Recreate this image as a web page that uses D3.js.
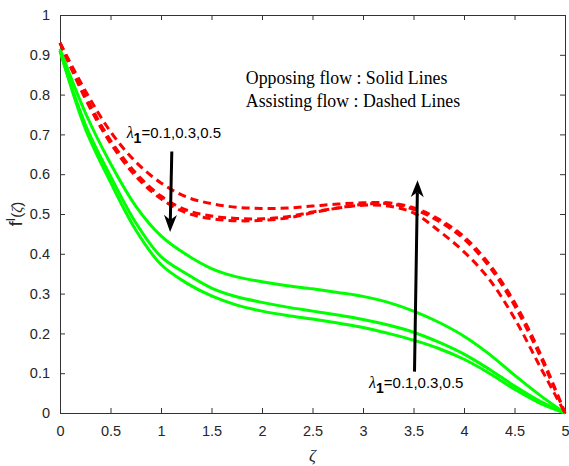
<!DOCTYPE html>
<html>
<head>
<meta charset="utf-8">
<script src="https://cdn.jsdelivr.net/npm/d3@7"></script>
<style>
  body { margin: 0; background: #fff; }
  svg { display: block; }
  .axis text { font-family: "Liberation Sans", Arial, sans-serif; font-size: 14.5px; fill: #262626; }
  .axis path, .axis line { stroke: #333; }
</style>
</head>
<body>
<div id="chart"></div>
<script>
// x values (zeta) shared by every curve
const zeta = [0, 0.25, 0.5, 0.75, 1, 1.25, 1.5, 1.75, 2, 2.25, 2.5, 2.75, 3, 3.25, 3.5, 3.75, 4, 4.25, 4.5, 4.75, 5];

// opposing flow (solid green), lambda1 = 0.1, 0.3, 0.5
const opposing1 = [0.915, 0.755, 0.627, 0.52, 0.445, 0.398, 0.363, 0.342, 0.330, 0.320, 0.312, 0.303, 0.293, 0.278, 0.256, 0.228, 0.193, 0.148, 0.095, 0.045, 0];
const opposing2 = [0.91, 0.725, 0.595, 0.478, 0.393, 0.35, 0.314, 0.292, 0.278, 0.266, 0.256, 0.246, 0.235, 0.221, 0.203, 0.178, 0.148, 0.11, 0.068, 0.03, 0];
const opposing3 = [0.91, 0.715, 0.58, 0.46, 0.373, 0.327, 0.294, 0.271, 0.256, 0.245, 0.236, 0.226, 0.215, 0.20, 0.183, 0.162, 0.135, 0.10, 0.06, 0.025, 0];

// assisting flow (dashed red)
const assisting1 = [0.93, 0.81, 0.707, 0.631, 0.578, 0.543, 0.526, 0.517, 0.514, 0.515, 0.52, 0.525, 0.528, 0.528, 0.516, 0.487, 0.443, 0.374, 0.278, 0.152, 0];
const assisting2 = [0.93, 0.798, 0.685, 0.603, 0.545, 0.51, 0.495, 0.489, 0.488, 0.493, 0.505, 0.515, 0.522, 0.52, 0.503, 0.458, 0.405, 0.336, 0.238, 0.118, 0];
const assisting3 = [0.93, 0.79, 0.678, 0.595, 0.538, 0.503, 0.488, 0.483, 0.484, 0.49, 0.503, 0.515, 0.524, 0.526, 0.512, 0.482, 0.437, 0.368, 0.27, 0.145, 0];

const xTicks = [0, 0.5, 1, 1.5, 2, 2.5, 3, 3.5, 4, 4.5, 5];
const yTicks = [0, 0.1, 0.2, 0.3, 0.4, 0.5, 0.6, 0.7, 0.8, 0.9, 1];

const width = 569;
const height = 466;
const margin = {top: 15, right: 4, bottom: 53, left: 60};

const svg = d3.select("#chart").append("svg")
    .attr("width", width)
    .attr("height", height);

const x = d3.scaleLinear()
    .domain([0, 5])
    .range([margin.left, width - margin.right]);

const y = d3.scaleLinear()
    .domain([0, 1])
    .range([height - margin.bottom, margin.top]);

const fmt = d3.format("~g");

// axes: ticks point inward on all four sides, labels on bottom/left only
svg.append("g")
    .attr("class", "axis")
    .attr("transform", `translate(0,${y(0)})`)
    .call(d3.axisBottom(x).tickValues(xTicks).tickFormat(fmt).tickSizeInner(-5).tickSizeOuter(0).tickPadding(13));

svg.append("g")
    .attr("class", "axis")
    .attr("transform", `translate(${x(0)},0)`)
    .call(d3.axisLeft(y).tickValues(yTicks).tickFormat(fmt).tickSizeInner(-5).tickSizeOuter(0).tickPadding(10));

svg.append("g")
    .attr("class", "axis")
    .attr("transform", `translate(0,${y(1)})`)
    .call(d3.axisTop(x).tickValues(xTicks).tickFormat("").tickSizeInner(-5).tickSizeOuter(0));

svg.append("g")
    .attr("class", "axis")
    .attr("transform", `translate(${x(5)},0)`)
    .call(d3.axisRight(y).tickValues(yTicks).tickFormat("").tickSizeInner(-5).tickSizeOuter(0));

// curves
const line = d3.line()
    .x((d, i) => x(zeta[i]))
    .y(d => y(d))
    .curve(d3.curveCatmullRom.alpha(0.5));

[opposing1, opposing2, opposing3].forEach(s => {
    svg.append("path")
        .datum(s)
        .attr("fill", "none")
        .attr("stroke", "#00ff00")
        .attr("stroke-width", 3)
        .attr("d", line);
});

[assisting1, assisting2, assisting3].forEach(s => {
    svg.append("path")
        .datum(s)
        .attr("fill", "none")
        .attr("stroke", "#ff0000")
        .attr("stroke-width", 3)
        .attr("stroke-dasharray", "8,5")
        .attr("d", line);
});

// arrows (data coordinates)
function arrow(x0, y0, x1, y1) {
    const px0 = x(x0), py0 = y(y0), px1 = x(x1), py1 = y(y1);
    const ang = Math.atan2(py1 - py0, px1 - px0);
    const len = 17, half = 6.5, notch = 12;
    const ux = Math.cos(ang), uy = Math.sin(ang);
    const nx = -uy, ny = ux;
    svg.append("line")
        .attr("x1", px0).attr("y1", py0)
        .attr("x2", px1 - ux * notch).attr("y2", py1 - uy * notch)
        .attr("stroke", "#000")
        .attr("stroke-width", 3);
    const pts = [
        [px1, py1],
        [px1 - ux * len + nx * half, py1 - uy * len + ny * half],
        [px1 - ux * notch, py1 - uy * notch],
        [px1 - ux * len - nx * half, py1 - uy * len - ny * half]
    ];
    svg.append("path")
        .attr("d", "M" + pts.map(p => p.join(",")).join("L") + "Z")
        .attr("fill", "#000");
}

arrow(1.107, 0.657, 1.09, 0.455);
arrow(3.51, 0.104, 3.54, 0.585);

// lambda labels
function lambdaLabel(xv, yv) {
    const t = svg.append("text")
        .attr("x", x(xv))
        .attr("y", y(yv))
        .attr("font-family", "Liberation Sans, Arial, sans-serif")
        .attr("font-size", 15)
        .attr("fill", "#000");
    t.append("tspan").attr("font-family", "Liberation Serif, serif").attr("font-style", "italic").attr("font-size", 16).text("λ");
    t.append("tspan").attr("dy", 5).attr("font-weight", "bold").attr("font-size", 14).text("1");
    t.append("tspan").attr("dy", -5).text("=0.1,0.3,0.5");
}

lambdaLabel(0.66, 0.69);
lambdaLabel(3.06, 0.063);

// legend text
const notes = ["Opposing flow : Solid Lines", "Assisting flow : Dashed Lines"];
const noteY = [0.827, 0.77];
notes.forEach((n, i) => {
    svg.append("text")
        .attr("x", x(1.84))
        .attr("y", y(noteY[i]))
        .attr("font-family", "Liberation Serif, 'Times New Roman', serif")
        .attr("font-size", 17.8)
        .attr("fill", "#000")
        .text(n);
});

// axis titles
svg.append("text")
    .attr("x", x(2.5))
    .attr("y", 461)
    .attr("text-anchor", "middle")
    .attr("font-family", "Liberation Serif, serif")
    .attr("font-style", "italic")
    .attr("font-size", 17)
    .attr("fill", "#262626")
    .text("ζ");

const yl = svg.append("text")
    .attr("text-anchor", "middle")
    .attr("transform", `translate(22,${y(0.5)})rotate(-90)`)
    .attr("font-family", "Liberation Sans, Arial, sans-serif")
    .attr("font-size", 18)
    .attr("fill", "#262626");
yl.append("tspan").text("f");
yl.append("tspan").attr("dy", -7).attr("font-size", 12).text("I");
yl.append("tspan").attr("dy", 7).attr("font-size", 15).text("(");
yl.append("tspan").attr("font-family", "Liberation Serif, serif").attr("font-style", "italic").attr("font-size", 15).text("ζ");
yl.append("tspan").attr("font-size", 15).text(")");
</script>
</body>
</html>
